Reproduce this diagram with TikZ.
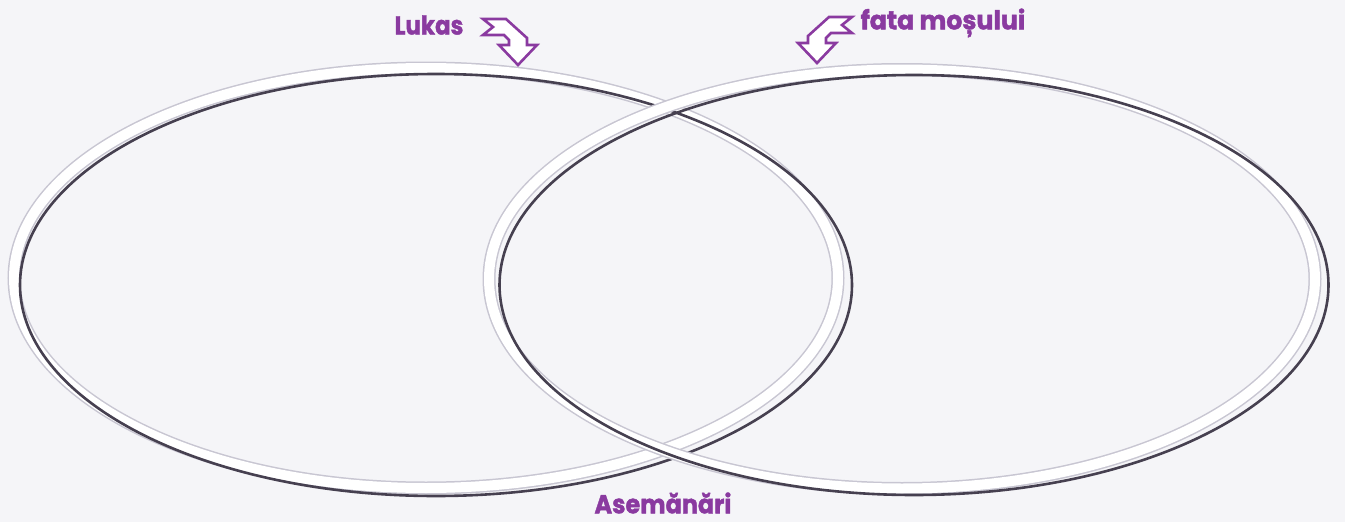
\documentclass[tikz,border=0pt]{standalone}
\usepackage{fontspec}
\setmainfont{Poppins}
\newfontfamily\heavyfont[BoldFeatures={FakeBold=1.6}]{Poppins}
\definecolor{bgc}{RGB}{245,245,248}
\definecolor{bandedge}{RGB}{200,198,210}
\definecolor{ringdark}{RGB}{70,64,80}
\definecolor{vpurple}{RGB}{138,58,160}
\tikzset{
  band/.style={line width=13pt, draw=bandedge},
  bandin/.style={line width=10pt, draw=white},
  ringshadow/.style={line width=2.6pt, draw=ringdark},
  lbl/.style={text=vpurple, font=\heavyfont\bfseries\fontsize{26}{26}\selectfont, inner sep=0pt},
  hollowarrow/.style={draw=vpurple, line width=2.6pt, fill=white, line join=miter}
}
\begin{document}
\begin{tikzpicture}[x=1pt,y=-1pt]
\fill[bgc] (0,0) rectangle (1345,522);
\useasboundingbox (0,0) rectangle (1345,522);
% left ellipse
\draw[band] (426,278) ellipse [x radius=412pt, y radius=210pt];
\draw[bandin] (426,278) ellipse [x radius=412pt, y radius=210pt];
\draw[ringshadow] (436,285) ellipse [x radius=416pt, y radius=211pt];
% right ellipse
\draw[band] (902,279) ellipse [x radius=413pt, y radius=209.5pt];
\draw[bandin] (902,279) ellipse [x radius=413pt, y radius=209.5pt];
\draw[ringshadow] (914,285) ellipse [x radius=414.5pt, y radius=210pt];
% labels
\node[lbl, xscale=0.88] (lukas) at (429,25) {Lukas};
\node[lbl, xscale=0.97] (fata) at (943,23) {fata moșului};
\node[lbl, xscale=0.92] (asem) at (663,503) {Asemănări};
% arrows
\draw[hollowarrow] (483,19) -- (506,19) -- (527,38) -- (527,45) -- (537,45) -- (518,65)
  -- (499,45) -- (509,45) -- (509,40) -- (504,35) -- (483,35) -- (493,27) -- cycle;
\draw[hollowarrow] (852,17) -- (829,17) -- (808,36) -- (808,43) -- (798,43) -- (817,63)
  -- (836,43) -- (826,43) -- (826,38) -- (831,33) -- (852,33) -- (842,25) -- cycle;
\end{tikzpicture}
\end{document}
